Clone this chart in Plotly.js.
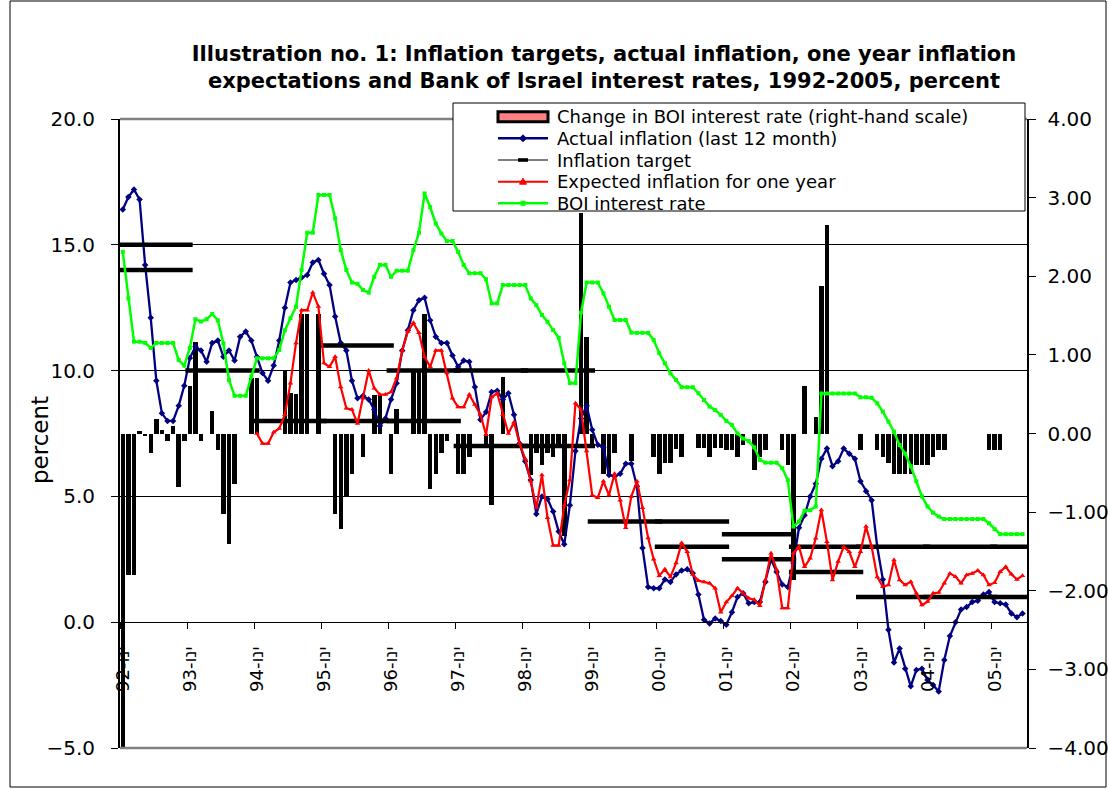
<!DOCTYPE html>
<html><head><meta charset="utf-8">
<script src="https://cdn.plot.ly/plotly-3.0.1.min.js"></script>
<style>html,body{margin:0;padding:0;background:#fff}#chart{width:1109px;height:789px}</style>
</head><body><div id="chart"></div>
<script>
// ---------- data (monthly, Jan 1992 .. Jun 2005) ----------
const startYear = 1992;
const tickLabels = ['92-ינו','93-ינו','94-ינו','95-ינו','96-ינו','97-ינו','98-ינו','99-ינו','00-ינו','01-ינו','02-ינו','03-ינו','04-ינו','05-ינו'];

const actualInflation = [
  16.4,16.9,17.2,16.8,14.2,12.1,9.6,8.3,8.0,8.0,8.6,9.4,
  10.5,10.95,10.8,10.35,11.1,11.2,10.55,10.8,10.4,11.35,11.55,11.2,
  10.55,9.9,9.6,10.2,11.2,12.5,13.5,13.6,13.7,13.8,14.3,14.4,
  13.85,13.4,12.15,11.1,10.8,9.6,8.9,9.0,8.85,8.45,7.8,8.1,
  8.85,9.5,10.8,11.6,12.4,12.8,12.9,12.0,11.35,11.1,11.1,10.6,
  10.15,10.4,10.35,9.35,8.05,8.35,9.15,9.2,8.85,9.1,8.25,7.1,
  6.4,5.65,4.3,5.0,4.9,4.4,3.6,3.1,4.65,6.8,8.1,8.6,
  7.65,7.05,6.95,5.85,5.8,5.9,6.3,6.3,5.4,2.95,1.4,1.35,
  1.35,1.7,1.6,1.9,2.05,2.1,1.95,1.1,0.1,-0.05,0.15,0.05,
  -0.1,0.4,1.0,1.15,0.75,0.8,0.8,1.6,2.5,2.0,1.5,1.4,
  2.35,3.75,4.25,5.0,5.5,6.5,6.9,6.2,6.4,6.9,6.7,6.5,
  5.6,5.2,4.85,3.0,1.7,-0.3,-1.6,-1.05,-1.85,-2.55,-1.9,-1.85,
  -2.3,-2.5,-2.75,-1.5,-0.55,0.0,0.5,0.6,0.8,0.85,1.1,1.2,
  0.8,0.75,0.7,0.35,0.2,0.35
];

const expectedInflation = [
  null,null,null,null,null,null,null,null,null,null,null,null,
  null,null,null,null,null,null,null,null,null,null,null,null,
  7.5,7.1,7.1,7.55,7.7,8.25,9.5,11.1,12.4,12.4,13.1,12.55,
  10.3,10.15,10.55,9.35,8.5,8.45,7.9,8.9,10.0,9.3,9.05,9.05,
  9.15,9.7,10.8,11.55,11.9,11.5,10.55,10.15,10.8,10.8,9.9,8.9,
  8.55,8.55,9.05,8.65,8.25,7.45,8.95,9.1,8.25,7.5,7.95,7.1,
  6.5,5.6,4.55,5.85,4.15,3.05,3.05,4.65,5.65,8.7,8.45,6.8,
  5.05,4.95,5.6,5.05,5.9,4.85,3.75,5.0,5.6,4.55,3.35,2.5,
  1.85,2.1,1.8,2.35,3.15,2.8,1.9,1.65,1.6,1.55,1.35,0.4,
  0.8,1.05,1.35,1.15,0.95,0.89,0.65,1.68,2.74,2.08,0.56,0.56,
  2.74,3.0,2.2,2.54,3.34,4.46,3.2,1.68,2.41,3.0,2.8,2.2,
  2.8,3.8,3.0,1.8,1.41,1.48,2.47,1.68,1.48,1.61,1.15,0.68,
  0.82,1.15,1.18,1.55,1.94,1.81,1.55,1.88,1.94,2.05,1.88,1.48,
  1.57,2.01,2.2,1.91,1.7,1.85
];

const boiRate = [
  14.72,12.87,11.15,11.15,11.1,10.9,11.1,11.1,11.1,11.1,10.42,10.2,
  10.9,12.04,11.95,12.04,12.25,12.0,11.08,9.63,9.0,9.0,9.0,9.76,
  10.49,10.49,10.49,10.49,10.82,11.6,12.08,12.54,14.0,15.48,15.48,16.98,
  16.98,16.98,16.05,14.79,14.0,13.5,13.45,13.2,13.1,13.73,14.2,14.2,
  13.73,13.97,13.97,13.97,14.79,15.48,17.04,16.5,15.85,15.45,15.15,15.15,
  14.72,14.2,13.87,13.87,13.87,13.63,12.67,12.67,13.4,13.4,13.4,13.4,
  13.4,12.87,12.6,12.21,11.94,11.61,11.31,10.29,9.5,9.5,12.3,13.5,
  13.5,13.5,13.07,12.54,12.01,12.01,12.01,11.51,11.5,11.5,11.5,11.22,
  10.69,10.29,9.89,9.63,9.34,9.34,9.34,9.1,8.83,8.57,8.43,8.24,
  8.0,7.84,7.5,7.3,7.2,6.95,6.45,6.34,6.34,6.34,6.12,5.65,
  3.8,4.0,4.43,4.45,4.6,9.09,9.09,9.09,9.09,9.09,9.09,9.09,
  8.94,8.94,8.92,8.7,8.37,7.97,7.57,7.04,6.7,6.2,5.6,5.0,
  4.6,4.35,4.2,4.1,4.1,4.1,4.1,4.1,4.1,4.1,4.1,3.93,
  3.7,3.5,3.5,3.5,3.5,3.5
];

const rateChange = [
  -4.3,-1.8,-1.8,0.03,-0.03,-0.25,0.18,0.05,-0.1,0.1,-0.68,-0.1,
  0.6,1.16,-0.1,0,0.28,-0.21,-1.03,-1.4,-0.64,0,0,0.7,
  0.7,0,0,0,0,0.81,0.51,0.5,1.52,1.52,0,1.52,
  0,0,-1.02,-1.21,-0.8,-0.51,0,-0.3,0,0.49,0.49,0,
  -0.51,0.31,0,0,0.81,0.81,1.52,-0.7,-0.51,-0.25,-0.1,0,
  -0.51,-0.51,-0.3,0,0,-0.15,-0.91,0,0.72,0,0,0,
  0,-0.53,-0.25,-0.4,-0.25,-0.3,-0.17,-1.3,0,0,2.8,1.23,
  -0.15,0,-0.51,-0.51,-0.25,0,0,-0.35,0,0,0,-0.3,
  -0.51,-0.37,-0.37,-0.2,-0.3,0,0,-0.19,-0.19,-0.3,-0.19,-0.19,
  -0.21,-0.21,-0.3,-0.15,0,-0.46,-0.3,-0.21,0,0,-0.21,-0.4,
  -1.86,0,0.6,0,0.21,1.87,2.65,0,0,0,0,0,
  -0.21,0,0,-0.21,-0.3,-0.37,-0.51,-0.51,-0.51,-0.51,-0.4,-0.4,
  -0.4,-0.3,-0.21,-0.21,0,0,0,0,0,0,0,-0.21,
  -0.21,-0.21,0,0,0,0
];

// inflation target per calendar year (lower / upper bound)
const targetYears = [1992,1993,1994,1995,1996,1997,1998,1999,2000,2001,2002,2003,2004,2005];
const targetLow  = [14,10,8,8,8,7,7,4,3,2.5,2,1,1,1];
const targetHigh = [15,10,8,11,10,10,10,4,4,3.5,3,3,3,3];

const seriesNames = ['Change in BOI interest rate (right-hand scale)','Actual inflation (last 12 month)','Inflation target','Expected inflation for one year','BOI interest rate'];

// ---------- build ----------
const nMonths = actualInflation.length;
const months = actualInflation.map((_, i) => i);
const lastX = nMonths - 0.2;

const tx = [], ty = [];
targetYears.forEach((yr, i) => {
  const m0 = (yr - startYear) * 12;
  const vals = targetLow[i] === targetHigh[i] ? [targetLow[i]] : [targetLow[i], targetHigh[i]];
  vals.forEach(v => {
    tx.push(m0 - 0.8, Math.min(m0 + 12.5, lastX), null);
    ty.push(v, v, null);
  });
});

const tickVals = tickLabels.map((_, i) => i * 12 - 0.5);

const FONT = 'DejaVu Sans, Verdana, sans-serif';

const traces = [
  {type:'bar', x: months, y: rateChange, xaxis:'x', yaxis:'y', name: seriesNames[0],
   marker:{color:'#000000', line:{width:0}}, width:0.8, hoverinfo:'skip'},
  {type:'scatter', mode:'lines+markers', x: months, y: actualInflation, xaxis:'x', yaxis:'y2', name: seriesNames[1],
   line:{color:'#000080', width:2.3}, marker:{symbol:'diamond', size:5, color:'#000080'}},
  {type:'scatter', mode:'lines', x: tx, y: ty, xaxis:'x', yaxis:'y2', name: seriesNames[2],
   line:{color:'#000000', width:4.5}, connectgaps:false},
  {type:'scatter', mode:'lines+markers', x: months, y: expectedInflation, xaxis:'x', yaxis:'y2', name: seriesNames[3],
   line:{color:'#FF0000', width:2.2}, marker:{symbol:'triangle-up', size:5, color:'#FF0000'}},
  {type:'scatter', mode:'lines+markers', x: months, y: boiRate, xaxis:'x', yaxis:'y2', name: seriesNames[4],
   line:{color:'#00FF00', width:2.5}, marker:{symbol:'square', size:4, color:'#00FF00'}}
];

// pixel helpers for layout decorations (plot area 120..1027 x 119..748)
const PL = 120, PR = 1027, PT = 119, PB = 748;
const xp = px => (px - PL) / (PR - PL);
const yp = py => (PB - py) / (PB - PT);

const shapes = [
  {type:'line', xref:'paper', yref:'paper', x0:0, x1:1, y0:1, y1:1, line:{color:'#808080', width:2.5}, layer:'above'},
  {type:'line', xref:'paper', yref:'paper', x0:0, x1:1, y0:0, y1:0, line:{color:'#808080', width:2.5}, layer:'above'},
  {type:'rect', xref:'paper', yref:'paper', x0:xp(10), x1:xp(1106), y0:yp(787), y1:yp(1), line:{color:'#000', width:1}, fillcolor:'rgba(0,0,0,0)', layer:'above'},
  // legend box
  {type:'rect', xref:'paper', yref:'paper', x0:xp(453), x1:xp(1025), y0:yp(211), y1:yp(103), line:{color:'#000', width:1}, fillcolor:'#ffffff', layer:'above'}
];
const rows = [116.7, 138.3, 160, 181.7, 203.3];
const s0 = 498, s1 = 548, sc = 523;
shapes.push({type:'rect', xref:'paper', yref:'paper', x0:xp(s0), x1:xp(s1), y0:yp(rows[0]+5), y1:yp(rows[0]-5), fillcolor:'#FF8080', line:{color:'#000', width:3}, layer:'above'});
shapes.push({type:'line', xref:'paper', yref:'paper', x0:xp(s0), x1:xp(s1), y0:yp(rows[1]), y1:yp(rows[1]), line:{color:'#000080', width:2.5}, layer:'above'});
shapes.push({type:'path', xref:'paper', yref:'paper', path:`M${xp(sc)},${yp(rows[1]-3.5)} L${xp(sc+3.5)},${yp(rows[1])} L${xp(sc)},${yp(rows[1]+3.5)} L${xp(sc-3.5)},${yp(rows[1])} Z`, fillcolor:'#000080', line:{color:'#000080', width:1}, layer:'above'});
shapes.push({type:'line', xref:'paper', yref:'paper', x0:xp(s0), x1:xp(s1), y0:yp(rows[2]), y1:yp(rows[2]), line:{color:'#000', width:1}, layer:'above'});
shapes.push({type:'rect', xref:'paper', yref:'paper', x0:xp(sc-5), x1:xp(sc+5), y0:yp(rows[2]+1.8), y1:yp(rows[2]-1.8), fillcolor:'#000', line:{color:'#000', width:0}, layer:'above'});
shapes.push({type:'line', xref:'paper', yref:'paper', x0:xp(s0), x1:xp(s1), y0:yp(rows[3]), y1:yp(rows[3]), line:{color:'#FF0000', width:2}, layer:'above'});
shapes.push({type:'path', xref:'paper', yref:'paper', path:`M${xp(sc)},${yp(rows[3]-3.5)} L${xp(sc+3.5)},${yp(rows[3]+2.5)} L${xp(sc-3.5)},${yp(rows[3]+2.5)} Z`, fillcolor:'#FF0000', line:{color:'#FF0000', width:1}, layer:'above'});
shapes.push({type:'line', xref:'paper', yref:'paper', x0:xp(s0), x1:xp(s1), y0:yp(rows[4]), y1:yp(rows[4]), line:{color:'#00FF00', width:2.5}, layer:'above'});
shapes.push({type:'rect', xref:'paper', yref:'paper', x0:xp(sc-2.5), x1:xp(sc+2.5), y0:yp(rows[4]+2.5), y1:yp(rows[4]-2.5), fillcolor:'#00FF00', line:{color:'#00FF00', width:0}, layer:'above'});

const annotations = seriesNames.map((t, i) => ({
  xref:'paper', yref:'paper', x:xp(555), y:yp(rows[i]), xanchor:'left', yanchor:'middle',
  text:t, showarrow:false, font:{family:FONT, size:18, color:'#000'}
}));
annotations.push({xref:'paper', yref:'paper', x:xp(40), y:yp(440), xanchor:'center', yanchor:'middle',
  text:'percent', textangle:-90, showarrow:false, font:{family:FONT, size:23, color:'#000'}});

const layout = {
  width:1109, height:789,
  margin:{l:PL, r:1109-PR, t:PT, b:789-PB, pad:0},
  paper_bgcolor:'#ffffff', plot_bgcolor:'#ffffff',
  font:{family:FONT, color:'#000'},
  showlegend:false,
  bargap:0,
  title:{text:'Illustration no. 1: Inflation targets, actual inflation, one year inflation<br>expectations and Bank of Israel interest rates, 1992-2005, percent',
    font:{family:FONT, size:21, color:'#000', weight:'bold'},
    xref:'container', yref:'container', x:604/1109, xanchor:'center', y:1-61/789, yanchor:'middle'},
  xaxis:{range:[-0.5, nMonths - 0.2], anchor:'free', position:0.2,
    showline:true, linecolor:'#000', linewidth:1, showgrid:false, zeroline:false,
    tickmode:'array', tickvals:tickVals, ticktext:tickLabels, tickangle:-90,
    ticks:'outside', ticklen:6, tickcolor:'#000', tickwidth:1,
    ticklabelstandoff:10, ticklabelshift:3,
    tickfont:{family:FONT, size:18, color:'#000'}, fixedrange:true},
  yaxis:{range:[-4,4], side:'right', tickmode:'linear', tick0:-4, dtick:1, tickformat:'.2f',
    showline:true, linecolor:'#000', linewidth:1.5, showgrid:false, zeroline:false,
    ticks:'outside', ticklen:7, tickcolor:'#000', ticklabelstandoff:8,
    tickfont:{family:FONT, size:20, color:'#000'}, fixedrange:true},
  yaxis2:{range:[-5,20], overlaying:'y', side:'left', tickmode:'linear', tick0:-5, dtick:5, tickformat:'.1f',
    showline:true, linecolor:'#000', linewidth:2, showgrid:true, gridcolor:'#000', gridwidth:1, zeroline:false,
    ticks:'outside', ticklen:7, tickcolor:'#000', ticklabelstandoff:12,
    tickfont:{family:FONT, size:20, color:'#000'}, fixedrange:true},
  shapes: shapes,
  annotations: annotations
};

Plotly.newPlot('chart', traces, layout, {displayModeBar:false, staticPlot:true});
</script></body></html>
